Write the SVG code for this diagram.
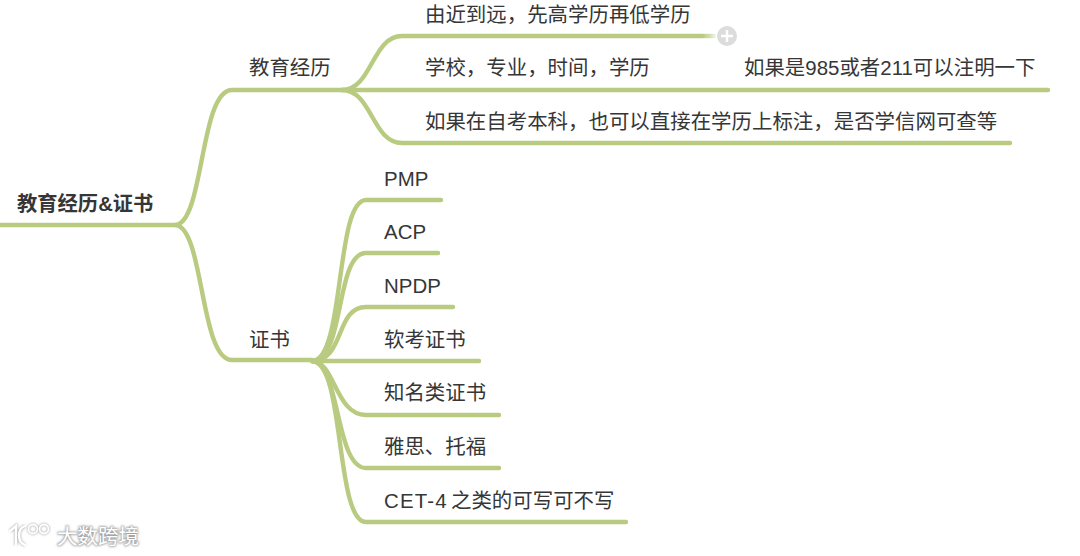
<svg xmlns="http://www.w3.org/2000/svg" width="1080" height="556" viewBox="0 0 1080 556">
<defs>
<linearGradient id="fade" x1="702" x2="716" y1="0" y2="0" gradientUnits="userSpaceOnUse"><stop offset="0" stop-color="#b9cb80"/><stop offset="0.6" stop-color="#b9cb80" stop-opacity="0.6"/><stop offset="1" stop-color="#b9cb80" stop-opacity="0.15"/></linearGradient>
<filter id="soft" x="-10%" y="-30%" width="120%" height="160%"><feGaussianBlur stdDeviation="1.1"/></filter>
</defs>
<style>
text{font-family:"Liberation Sans","Noto Sans CJK SC",sans-serif;font-size:20.45px;fill:#363636}
.c{fill:none;stroke:#b9cb80;stroke-width:4.4;stroke-linecap:round}
.w{fill:none;stroke:#fff;stroke-width:2.4;stroke-linecap:round}
</style>
<rect width="1080" height="556" fill="#fff"/>
<g id="connectors">
<path class="c" d="M0 225H176"/>
<path class="c" d="M176 225C204 221 200 90 232 90H342"/>
<path class="c" d="M176 225C204 229 200 360 232 360H312"/>
<path class="c" d="M342 90C372 90 372 36 402 36H702"/>
<path d="M702 36H716" fill="none" stroke="url(#fade)" stroke-width="4.4"/>
<path class="c" d="M342 90H1048"/>
<path class="c" d="M342 90C372 90 372 143 402 143H1010"/>
<path class="c" d="M312 361C345 361 335 200 366 200H441"/>
<path class="c" d="M312 361C345 361 335 253 366 253H438"/>
<path class="c" d="M312 361C345 361 335 307 366 307H453"/>
<path class="c" d="M312 361H479"/>
<path class="c" d="M312 361C335 361 335 415 366 415H499"/>
<path class="c" d="M312 361C340 361 335 468 366 468H499"/>
<path class="c" d="M312 361C345 361 335 522 366 522H626"/>
</g>
<g id="root"><text x="17" y="211" font-weight="700" style="font-size:20.3px">教育经历&amp;证书</text></g>
<g id="edu"><text x="249" y="75">教育经历</text></g>
<g id="cert"><text x="249" y="347">证书</text></g>
<g id="e1"><text x="425" y="22">由近到远，先高学历再低学历</text>
<g id="collapse"><circle cx="727" cy="36" r="10" fill="#dcdcdc"/><path d="M721 36H733M727 30V42" stroke="#fff" stroke-width="2.4"/></g></g>
<g id="e2"><text x="425" y="75">学校，专业，时间，学历</text></g>
<g id="e2b"><text x="744" y="75">如果是985或者211可以注明一下</text></g>
<g id="e3"><text x="425" y="129">如果在自考本科，也可以直接在学历上标注，是否学信网可查等</text></g>
<g id="c1"><text x="384" y="186">PMP</text></g>
<g id="c2"><text x="384" y="239">ACP</text></g>
<g id="c3"><text x="384" y="293">NPDP</text></g>
<g id="c4"><text x="384" y="347">软考证书</text></g>
<g id="c5"><text x="384" y="400">知名类证书</text></g>
<g id="c6"><text x="384" y="454">雅思、托福</text></g>
<g id="c7"><text x="384" y="508"><tspan letter-spacing="1.2">CET-4</tspan><tspan x="451">之类的可写可不写</tspan></text></g>
<g id="watermark">
<g filter="url(#soft)" opacity="0.8">
<path d="M10 531L16 526V545M25 526C17 529 17 542 25 545" fill="none" stroke="#999" stroke-width="3"/>
<circle cx="33" cy="529" r="4.5" fill="none" stroke="#999" stroke-width="2.4"/><circle cx="44" cy="529" r="4.5" fill="none" stroke="#999" stroke-width="2.4"/>
<text x="57" y="544" style="fill:#888;stroke:#888;stroke-width:1.6;font-size:20.5px;font-family:'Noto Sans CJK SC',sans-serif">大数跨境</text>
</g>
<path class="w" d="M10 531L16 526V545M25 526C17 529 17 542 25 545"/>
<circle cx="33" cy="529" r="4.5" fill="none" stroke="#fff" stroke-width="1.8"/><circle cx="44" cy="529" r="4.5" fill="none" stroke="#fff" stroke-width="1.8"/>
<text x="57" y="544" style="fill:#fff;font-size:20.5px;font-family:'Noto Sans CJK SC',sans-serif">大数跨境</text>
</g>
</svg>
